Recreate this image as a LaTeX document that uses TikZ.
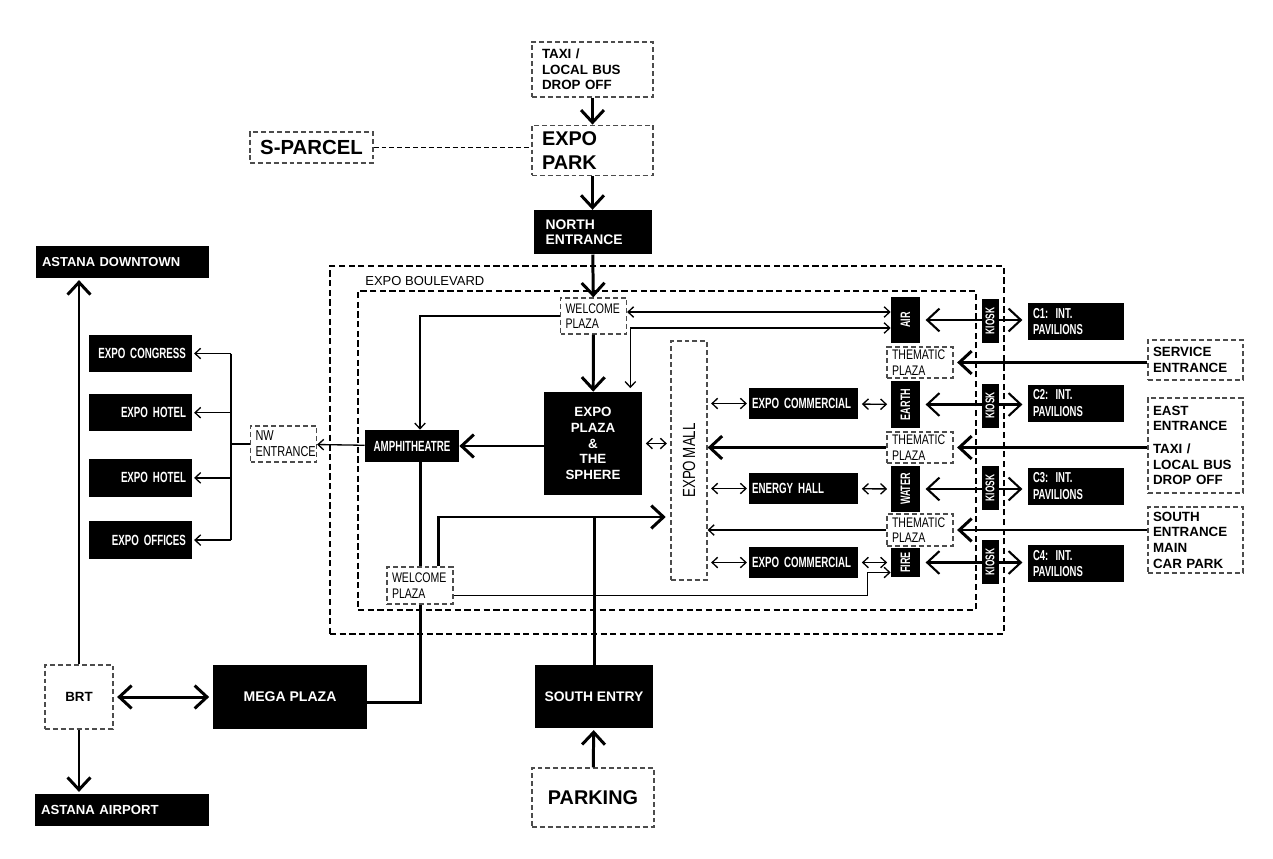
\documentclass[tikz,border=0pt]{standalone}
\usepackage{fontspec}
\setmainfont{Liberation Sans}
\newfontfamily\condfont[FakeStretch=0.76, WordSpace=0.7]{Liberation Sans}
\newfontfamily\condbfont[FakeStretch=0.66, WordSpace=0.66]{Liberation Sans}
\usepackage{graphicx}
\usepackage{tikz}
\usetikzlibrary{arrows.meta, positioning}
\newcommand{\hvb}[2]{\fontsize{#1pt}{#2pt}\selectfont\bfseries}
\newcommand{\cnd}[2]{\condfont\fontsize{#1pt}{#2pt}\selectfont}
\newcommand{\cndb}[2]{\condbfont\fontsize{#1pt}{#2pt}\selectfont\bfseries}

\begin{document}
\begin{tikzpicture}[
  x=0.02cm, y=-0.02cm,
  blk/.style   ={rectangle, fill=black, text=white, inner sep=0pt,
                 align=center, font=\hvb{7.9}{8.9}},
  cblk/.style  ={blk, font=\cndb{8.4}{9.4}},
  vblk/.style  ={blk, font=\cndb{7.8}{9}, minimum width=0.58cm},
  gate/.style  ={rectangle, draw=black!70, line width=0.7pt,
                 dash pattern=on 2.8pt off 1.7pt, inner ysep=0pt,
                 align=left, font=\hvb{7.6}{8.9}},
  plaza/.style ={gate, font=\cnd{7.9}{8.9}, text width=1.12cm, inner xsep=0.1cm},
  entry/.style ={gate, text width=1.7cm, inner xsep=0.1cm},
  annex/.style ={cblk, align=right, text width=1.82cm, inner xsep=0.12cm,
                 minimum height=0.75cm},
  hall/.style  ={cblk, align=left, text width=2.06cm, inner xsep=0.06cm,
                 minimum height=0.62cm},
  pav/.style   ={cblk, font=\cndb{8.2}{9.4}, align=left, text width=1.72cm,
                 inner xsep=0.1cm, minimum height=0.74cm},
  kiosk/.style ={blk, font=\cndb{7.2}{8}, minimum width=0.34cm, minimum height=0.88cm},
  frm/.style   ={rectangle, draw, line width=0.7pt, dash pattern=on 3.5pt off 2pt},
  arr/.style   ={line width=1.7pt, >={Straight Barb[length=7pt,width=13pt]}, ->},
  arrs/.style  ={line width=0.75pt, >={Straight Barb[length=3.2pt,width=6pt]}, ->},
  bar/.style   ={line width=1.7pt},
  lnk/.style   ={line width=0.75pt}
]
\useasboundingbox (0,0) rectangle (1273,858);
% ---- Boulevard frames ------------------------------------------------------
\node[frm, minimum width=13.48cm, minimum height=7.36cm] (blvd) at (667,450) {};
\node[frm, minimum width=12.36cm, minimum height=6.38cm] (site) at (667,450.5) {};
\node[anchor=base west, inner sep=0pt, font=\fontsize{7.4pt}{9pt}\selectfont] (blvdlbl) at (365,285) {EXPO BOULEVARD};
% ---- North approach --------------------------------------------------------
\node[gate, text width=2.02cm, inner xsep=0.2cm, minimum height=1.1cm] (taxi) at (592.5,69.5) {TAXI /\\LOCAL BUS\\DROP OFF};
\node[gate, text width=2.02cm, inner xsep=0.2cm, minimum height=1.0cm, font=\hvb{11.3}{13.8}, below=0.54cm of taxi] (park) {EXPO\\PARK};
\node[gate, align=center, minimum width=2.46cm, minimum height=0.62cm, font=\hvb{11.6}{13}] (sparcel) at (311.5,147.5) {S-PARCEL};
\node[blk, align=left, text width=1.88cm, inner xsep=0.24cm, minimum height=0.88cm, below=0.68cm of park] (north) {NORTH\\ENTRANCE};
% ---- West side -------------------------------------------------------------
\node[blk, align=left, text width=3.22cm, inner xsep=0.12cm, minimum height=0.64cm, font=\hvb{7.4}{8.6}] (downtown) at (122.5,262) {ASTANA DOWNTOWN};
\node[blk, align=left, text width=3.24cm, inner xsep=0.12cm, minimum height=0.64cm, font=\hvb{7.5}{8.6}] (airport) at (122,810) {ASTANA AIRPORT};
\node[gate, align=center, minimum width=1.36cm, minimum height=1.28cm, font=\hvb{7.6}{9}] (brt) at (79,697) {BRT};
\node[blk, minimum width=3.08cm, minimum height=1.28cm, font=\hvb{8}{9}] (mega) at (290,697) {MEGA PLAZA};
\node[annex] (congress) at (140.5,353.5) {EXPO CONGRESS};
\node[annex, below=0.42cm of congress] (hotela) {EXPO HOTEL};
\node[annex, below=0.54cm of hotela] (hotelb) {EXPO HOTEL};
\node[annex, below=0.48cm of hotelb] (offices) {EXPO OFFICES};
\node[plaza, font=\cnd{8.2}{9.2}, minimum height=0.72cm] (nw) at (283.5,444) {NW\\ENTRANCE};
% ---- Site ------------------------------------------------------------------
\node[plaza, minimum height=0.72cm] (wpn) at (593.5,316) {WELCOME\\PLAZA};
\node[plaza, minimum height=0.74cm] (wps) at (420,585.5) {WELCOME\\PLAZA};
\node[cblk, minimum width=1.88cm, minimum height=0.64cm] (amph) at (412,446) {AMPHITHEATRE};
\node[blk, minimum width=1.96cm, minimum height=2.06cm, font=\hvb{7.6}{8.9}] (sphere) at (593,443.5) {EXPO\\PLAZA\\\&\\THE\\SPHERE};
\node[gate, align=center, minimum width=0.72cm, minimum height=4.78cm, font=\cnd{10}{10}] (mall) at (689,460.5) {\rotatebox{90}{EXPO MALL}};
\node[hall] (ecom1) at (803.5,403.5) {EXPO COMMERCIAL};
\node[hall] (ehall) at (803.5,488.5) {ENERGY HALL};
\node[hall] (ecom2) at (803.5,562.5) {EXPO COMMERCIAL};
\node[vblk, minimum height=0.92cm] (air) at (905.5,320) {\rotatebox{90}{AIR}};
\node[vblk, minimum height=0.94cm] (earth) at (905.5,404.5) {\rotatebox{90}{EARTH}};
\node[vblk, minimum height=0.92cm] (water) at (905.5,489) {\rotatebox{90}{WATER}};
\node[vblk, minimum height=0.58cm] (fire) at (905.5,562.5) {\rotatebox{90}{FIRE}};
\node[plaza, minimum height=0.62cm] (tp1) at (920,362.5) {THEMATIC\\PLAZA};
\node[plaza, minimum height=0.62cm] (tp2) at (920,447.5) {THEMATIC\\PLAZA};
\node[plaza, minimum height=0.64cm] (tp3) at (920,530) {THEMATIC\\PLAZA};
% ---- East side -------------------------------------------------------------
\node[pav] (c1) at (1076,321.5) {C1: INT.\\PAVILIONS};
\node[pav] (c2) at (1076,403) {C2: INT.\\PAVILIONS};
\node[pav] (c3) at (1076,486) {C3: INT.\\PAVILIONS};
\node[pav] (c4) at (1076,563.5) {C4: INT.\\PAVILIONS};
\node[entry, minimum height=0.8cm] (service) at (1195.5,360) {SERVICE\\ENTRANCE};
\node[entry, minimum height=1.9cm] (east) at (1195.5,445.5) {EAST\\ENTRANCE\\[4pt]TAXI /\\LOCAL BUS\\DROP OFF};
\node[entry, minimum height=1.32cm] (south) at (1195.5,540) {SOUTH\\ENTRANCE\\MAIN\\CAR PARK};
% ---- South approach --------------------------------------------------------
\node[blk, minimum width=2.36cm, minimum height=1.26cm, font=\hvb{7.9}{9}] (sentry) at (594,696.5) {SOUTH ENTRY};
\node[gate, align=center, minimum width=2.44cm, minimum height=1.18cm, font=\hvb{11.3}{13}] (parking) at (593,797.5) {PARKING};
% ---- Helper points ---------------------------------------------------------
\coordinate (airhi) at ([yshift=0.16cm]air.west);
\coordinate (airlo) at ([yshift=-0.16cm]air.west);
\coordinate (sphin) at ([xshift=-0.24cm]sphere.north east);
\coordinate (fork) at (231,444);
\coordinate (wpsup) at ([xshift=-0.3cm]wps.north east);
\coordinate (mallin) at (671,517);
\coordinate (firein) at ([yshift=-0.2cm]fire.west);
% ---- Arrows ----------------------------------------------------------------
\draw[arr] (taxi) -- (park);
\draw[lnk, dash pattern=on 2.8pt off 1.7pt] (sparcel) -- (sparcel -| park.west);
\draw[arr] (park) -- (north);
\draw[arr] (north) -- (wpn);
\draw[arr] (wpn) -- (sphere);
\draw[arrs] (wpn.west) -| (wps.north |- amph.north);
\draw[arrs, <->] (airhi) -- (airhi -| wpn.east);
\draw[arrs, <->, shorten <=2pt] (sphin) |- (airlo);
\draw[arrs, <->, shorten <=2pt, shorten >=2pt] (sphere.east) -- (sphere.east -| mall.west);
\draw[arr] (sphere.west |- amph) -- (amph);
\draw[arrs] (amph) -- (nw);
\draw[lnk] (nw) -- (fork);
\draw[lnk] (fork |- congress) -- (fork |- offices);
\foreach \h in {congress,hotela,hotelb,offices}
  \draw[arrs, shorten >=1pt] (fork |- \h) -- (\h);
\draw[bar] (amph.south -| wps.north) -- (wps.north);
\draw[arr, shorten >=3pt] (wpsup) |- (mallin);
\draw[bar] (sentry) -- (sentry |- mallin);
\draw[arrs] ([yshift=-0.2cm]wps.east) -| ([xshift=-0.46cm]firein) -- (firein);
\draw[bar] (wps.south) |- ([yshift=-0.1cm]mega.east);
\draw[arr, <->, shorten <=2pt, shorten >=2pt] (brt) -- (mega);
\draw[arr, shorten >=1pt] (brt.north) -- (brt.north |- downtown.south);
\draw[arr, shorten >=1pt] (brt.south) -- (brt.south |- airport.north);
\draw[arr, shorten >=1pt] (parking) -- (sentry);
\foreach \a/\b in {ecom1/earth, ehall/water, ecom2/fire} {
  \draw[arrs, <->, shorten <=2pt, shorten >=1pt] (mall.east |- \a) -- (\a);
  \draw[arrs, <->, shorten <=2pt, shorten >=2pt] (\a) -- (\b);
}
\foreach \e/\c in {air/c1, earth/c2, water/c3, fire/c4}
  \draw[arr, <->, line width=1.2pt, shorten <=3pt, shorten >=3pt] (\e) -- (\e -| \c.west);
\draw[arr, shorten >=2pt] (service.west |- tp1) -- (tp1);
\draw[arr, shorten >=2pt] (east.west |- tp2) -- (tp2);
\draw[arr] (tp2) -- (mall.east |- tp2);
\draw[arr, shorten >=2pt] (south.west |- tp3) -- (tp3);
\draw[arrs] (tp3) -- (mall.east |- tp3);
% ---- Kiosks on top ---------------------------------------------------------
\node[kiosk] (k1) at (990,321) {\rotatebox{90}{KIOSK}};
\node[kiosk] (k2) at (990,405.5) {\rotatebox{90}{KIOSK}};
\node[kiosk] (k3) at (990,488) {\rotatebox{90}{KIOSK}};
\node[kiosk] (k4) at (990,562) {\rotatebox{90}{KIOSK}};
\end{tikzpicture}
\end{document}
